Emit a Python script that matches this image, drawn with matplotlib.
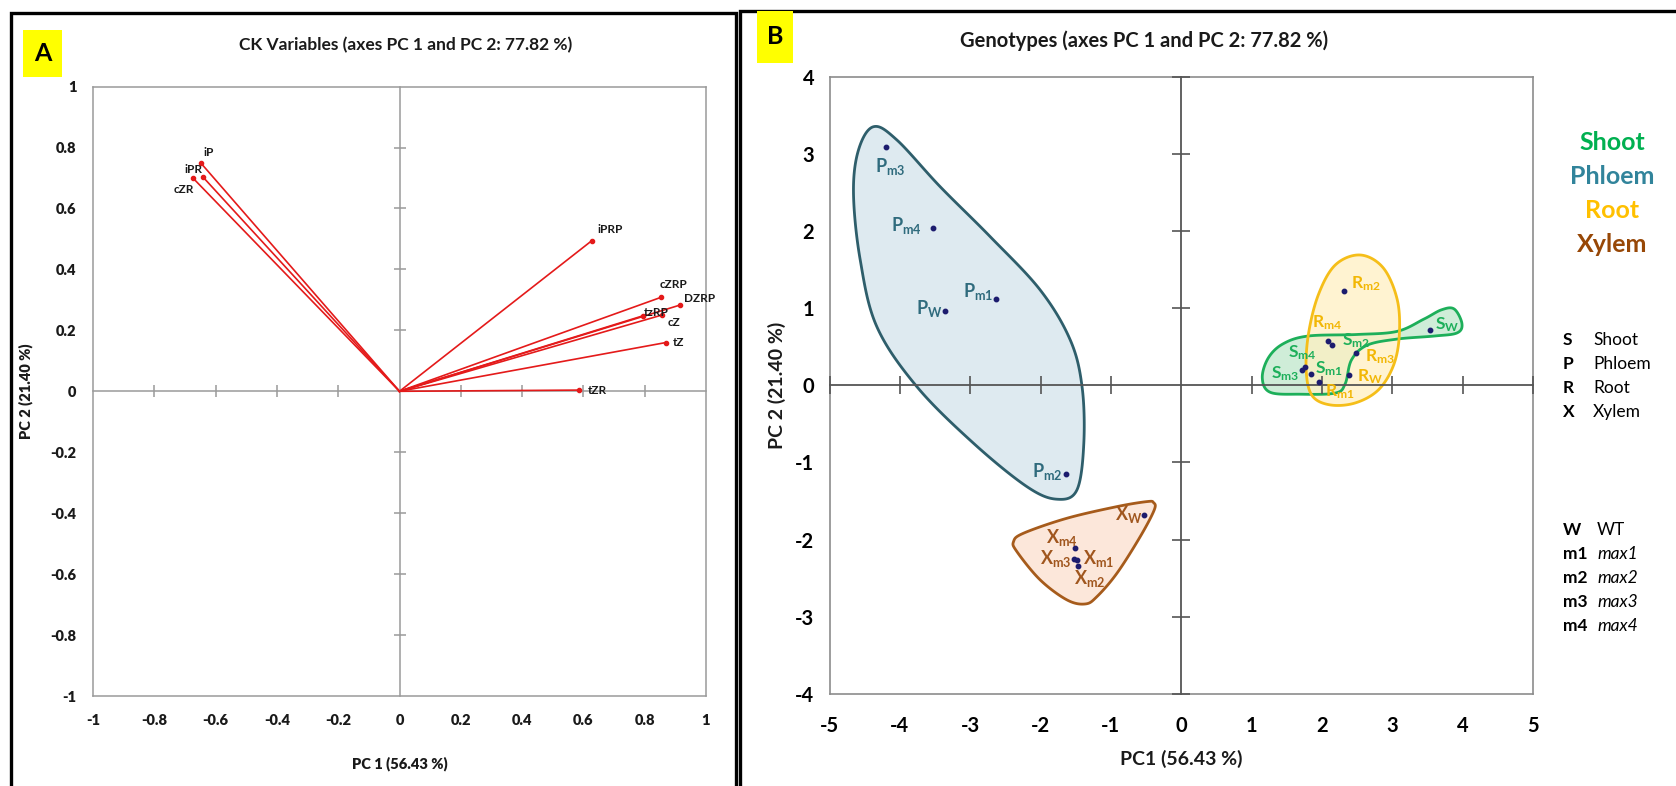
import numpy as np
import matplotlib
matplotlib.use("Agg")
import matplotlib.pyplot as plt
from matplotlib.patches import Rectangle, Polygon

plt.rcParams['font.family'] = ['Lato', 'DejaVu Sans']
plt.rcParams['mathtext.fontset'] = 'custom'
plt.rcParams['mathtext.rm'] = 'Lato'
plt.rcParams['mathtext.bf'] = 'Lato:bold'
plt.rcParams['mathtext.default'] = 'bf'

# ---- Panel A: cytokinin variable loadings ----
var_names = ['iP', 'iPR', 'cZR', 'iPRP', 'cZRP', 'DZRP', 'tzRP', 'cZ', 'tZ', 'tZR']
var_pc1 = [-0.648, -0.641, -0.674, 0.627, 0.852, 0.915, 0.795, 0.855, 0.869, 0.586]
var_pc2 = [0.749, 0.703, 0.700, 0.494, 0.308, 0.283, 0.248, 0.250, 0.160, 0.004]

# ---- Panel B: genotype scores per tissue (W, m1, m2, m3, m4) ----
genotypes = ['W', 'm1', 'm2', 'm3', 'm4']
phloem_pc1 = [-3.36, -2.64, -1.635, -4.194, -3.531]
phloem_pc2 = [0.965, 1.117, -1.153, 3.096, 2.037]
shoot_pc1 = [3.53, 1.844, 2.14, 1.722, 1.763]
shoot_pc2 = [0.718, 0.144, 0.524, 0.195, 0.243]
root_pc1 = [2.39, 1.952, 2.32, 2.48, 2.08]
root_pc2 = [0.131, 0.040, 1.228, 0.42, 0.58]
xylem_pc1 = [-0.526, -1.479, -1.469, -1.521, -1.51]
xylem_pc2 = [-1.681, -2.26, -2.339, -2.248, -2.105]

# hand-drawn group outlines (PC1, PC2)
phloem_outline_x = [-4.375, -4.588, -4.659, -4.564, -4.327, -3.758, -2.953, -2.194, -1.767,
                    -1.483, -1.385, -1.41, -1.578, -2.005, -2.716, -3.427, -4.042]
phloem_outline_y = [3.355, 3.053, 2.492, 1.631, 0.761, -0.017, -0.751, -1.314, -1.477,
                    -1.357, -0.751, -0.017, 0.589, 1.237, 1.929, 2.577, 3.183]
shoot_outline_x = [1.806, 2.5, 3.067, 3.45, 3.70, 3.88, 3.99, 3.92, 3.60, 3.067, 2.64,
                   2.42, 2.33, 2.19, 1.692, 1.265, 1.152, 1.237, 1.45]
shoot_outline_y = [0.64, 0.66, 0.70, 0.86, 0.98, 0.99, 0.80, 0.68, 0.64, 0.60, 0.52,
                   0.33, 0.02, -0.10, -0.115, -0.09, 0.096, 0.355, 0.54]
root_outline_x = [2.545, 2.872, 3.071, 3.099, 3.014, 2.801, 2.474, 2.119, 1.863, 1.777,
                  1.806, 1.948, 2.19]
root_outline_y = [1.691, 1.523, 1.108, 0.641, 0.252, -0.06, -0.228, -0.254, -0.137, 0.174,
                  0.654, 1.173, 1.562]
xylem_outline_x = [-0.394, -0.384, -0.583, -0.914, -1.199, -1.365, -1.625, -2.005, -2.336,
                   -2.384, -2.242, -1.625, -0.914, -0.488]
xylem_outline_y = [-1.521, -1.616, -1.962, -2.437, -2.741, -2.836, -2.783, -2.524, -2.157,
                   -2.027, -1.918, -1.724, -1.573, -1.508]


def smooth_closed(xs, ys, n=24):
    """Closed Catmull-Rom curve through the given outline points."""
    pts = np.column_stack([xs, ys]).astype(float)
    N = len(pts)
    t = np.linspace(0, 1, n, endpoint=False)[:, None]
    segs = []
    for i in range(N):
        p0, p1, p2, p3 = pts[(i - 1) % N], pts[i], pts[(i + 1) % N], pts[(i + 2) % N]
        segs.append(0.5 * (2 * p1 + (-p0 + p2) * t + (2 * p0 - 5 * p1 + 4 * p2 - p3) * t ** 2
                           + (-p0 + 3 * p1 - 3 * p2 + p3) * t ** 3))
    return np.vstack(segs)


W, H = 1676, 786
fig = plt.figure(figsize=(W / 100, H / 100), dpi=100)
fig.patch.set_facecolor('white')


def fx(px):
    return px / W


def fy(py):
    return 1 - py / H


# panel frames
for x0, x1, y0 in [(11, 736, 13), (740, 1690, 11)]:
    fig.patches.append(Rectangle((fx(x0), fy(H + 20)), fx(x1) - fx(x0), fy(y0) - fy(H + 20),
                                 transform=fig.transFigure, fill=False, edgecolor='black',
                                 linewidth=2.4, zorder=0))
# panel tags
for (x0, x1, y0, y1, tag) in [(23, 62, 30, 77, 'A'), (757, 793, 11, 63, 'B')]:
    fig.patches.append(Rectangle((fx(x0), fy(y1)), fx(x1) - fx(x0), fy(y0) - fy(y1),
                                 transform=fig.transFigure, facecolor='#FFFF00',
                                 edgecolor='none', zorder=1))
    fig.text(fx((x0 + x1) / 2), fy((y0 + y1) / 2), tag, ha='center', va='center',
             fontsize=18, fontweight='bold', color='black')

GRID_GRAY = '#9a9a9a'

# ================= Panel A =================
axA = fig.add_axes([fx(93), fy(696), fx(706) - fx(93), fy(86.6) - fy(696)])
axA.set_xlim(-1, 1)
axA.set_ylim(-1, 1)
ticksA = np.round(np.arange(-1, 1.01, 0.2), 1)
tick_txt_A = ['0' if abs(v) < 1e-9 else f'{v:g}' for v in ticksA]
axA.set_xticks(ticksA)
axA.set_yticks(ticksA)
axA.set_xticklabels(tick_txt_A, fontweight='heavy', fontsize=10.5, color='#1a1a1a')
axA.set_yticklabels(tick_txt_A, fontweight='heavy', fontsize=10.5, color='#1a1a1a')
axA.tick_params(length=0)
axA.tick_params(axis='x', pad=13)
axA.tick_params(axis='y', pad=12)
for s in axA.spines.values():
    s.set_color(GRID_GRAY)
    s.set_linewidth(1.1)

# zero axes with crossing ticks
axA0 = fig.add_axes(axA.get_position(), facecolor='none')
axA0.set_xlim(-1, 1)
axA0.set_ylim(-1, 1)
axA0.spines['left'].set_position(('data', 0))
axA0.spines['bottom'].set_position(('data', 0))
axA0.spines['top'].set_visible(False)
axA0.spines['right'].set_visible(False)
for s in ('left', 'bottom'):
    axA0.spines[s].set_color(GRID_GRAY)
    axA0.spines[s].set_linewidth(1.1)
axA0.set_xticks([v for v in ticksA if abs(v) > 1e-9 and abs(abs(v) - 1) > 1e-9])
axA0.set_yticks([v for v in ticksA if abs(v) > 1e-9 and abs(abs(v) - 1) > 1e-9])
axA0.tick_params(direction='inout', length=9, width=1.1, color=GRID_GRAY,
                 labelbottom=False, labelleft=False)

lab_offsets_A = {'iP': (8, 11), 'iPR': (-10, 8), 'cZR': (-9, -11), 'iPRP': (18, 11),
                 'cZRP': (13, 13), 'DZRP': (20, 7), 'tzRP': (13, 3), 'cZ': (12, -7),
                 'tZ': (13, 0), 'tZR': (18, 0)}
for name, x, y in zip(var_names, var_pc1, var_pc2):
    axA0.plot([0, x], [0, y], color='#E41A1A', linewidth=1.2, zorder=3)
    axA0.plot([x], [y], 'o', color='#E41A1A', markersize=3, zorder=4)
    axA0.annotate(name, (x, y), xytext=lab_offsets_A[name], textcoords='offset pixels',
                  ha='center', va='center', fontsize=8.5, fontweight='bold', color='#1a1a1a',
                  zorder=5)

fig.text(fx(406), fy(45), 'CK Variables (axes PC 1 and PC 2: 77.82 %)', ha='center',
         va='center', fontsize=12.5, fontweight='bold', color='#1a1a1a')
fig.text(fx(400), fy(764), 'PC 1 (56.43 %)', ha='center', va='center', fontsize=10.5,
         fontweight='heavy', color='#1a1a1a')
fig.text(fx(26), fy(391), 'PC 2 (21.40 %)', ha='center', va='center', fontsize=10.5,
         fontweight='heavy', rotation=90, color='#1a1a1a')

# ================= Panel B =================
axB = fig.add_axes([fx(829.5), fy(693.7), fx(1533) - fx(829.5), fy(77) - fy(693.7)])
axB.set_xlim(-5, 5)
axB.set_ylim(-4, 4)
axB.set_xticks(range(-5, 6))
axB.set_yticks(range(-4, 5))
axB.set_xticklabels([str(v) for v in range(-5, 6)], fontweight='bold', fontsize=14.5)
axB.set_yticklabels([str(v) for v in range(-4, 5)], fontweight='bold', fontsize=14.5)
axB.tick_params(length=0)
axB.tick_params(axis='x', pad=16)
axB.tick_params(axis='y', pad=11)
for s in axB.spines.values():
    s.set_color('#8c8c8c')
    s.set_linewidth(1.2)

groups = [
    ('P', phloem_pc1, phloem_pc2, phloem_outline_x, phloem_outline_y,
     '#2E5E6B', '#D3E4EC', '#2F6B7D', 13),
    ('X', xylem_pc1, xylem_pc2, xylem_outline_x, xylem_outline_y,
     '#A65B1B', '#FBE0CE', '#A0561E', 13),
    ('S', shoot_pc1, shoot_pc2, shoot_outline_x, shoot_outline_y,
     '#1DAF5A', '#BFE8CC', '#1DAF5A', 12.5),
    ('R', root_pc1, root_pc2, root_outline_x, root_outline_y,
     '#F5BE19', '#FFF0C2', '#F2B705', 12.5),
]

for g in groups:
    curve = smooth_closed(g[3], g[4])
    axB.add_patch(Polygon(curve, closed=True, facecolor=g[6], edgecolor='none',
                          alpha=0.75, zorder=2))
for g in groups:
    curve = smooth_closed(g[3], g[4])
    axB.add_patch(Polygon(curve, closed=True, facecolor='none', edgecolor=g[5],
                          linewidth=2.0, zorder=3))

# zero axes with crossing ticks
axB0 = fig.add_axes(axB.get_position(), facecolor='none')
axB0.set_xlim(-5, 5)
axB0.set_ylim(-4, 4)
axB0.spines['left'].set_position(('data', 0))
axB0.spines['bottom'].set_position(('data', 0))
axB0.spines['top'].set_visible(False)
axB0.spines['right'].set_visible(False)
for s in ('left', 'bottom'):
    axB0.spines[s].set_color('#555555')
    axB0.spines[s].set_linewidth(1.3)
axB0.set_xticks([v for v in range(-5, 6) if v != 0])
axB0.set_yticks([v for v in range(-4, 5) if v != 0])
axB0.tick_params(direction='inout', length=13, width=1.2, color='#555555',
                 labelbottom=False, labelleft=False)

lab_offsets_B = {
    'P': {'W': (-16, 2), 'm1': (-17, 8), 'm2': (-19, 3), 'm3': (4, -20), 'm4': (-26, 3)},
    'X': {'W': (-16, 0), 'm1': (21, 1), 'm2': (12, -13), 'm3': (-18, 0), 'm4': (-13, 10)},
    'S': {'W': (18, 5), 'm1': (18, 6), 'm2': (24, 4), 'm3': (-17, -3), 'm4': (-3, 14)},
    'R': {'W': (21, -1), 'm1': (21, -9), 'm2': (22, 7), 'm3': (24, -4), 'm4': (0, 18)},
}
for (letter, px, py, _, _, _, _, tcol, fsz) in groups:
    axB0.plot(px, py, 'o', color='#1c1c6e', markersize=3.2, zorder=6)
    for g, x, y in zip(genotypes, px, py):
        dx, dy = lab_offsets_B[letter][g]
        axB0.annotate(r'$\mathregular{%s_{%s}}$' % (letter, g), (x, y), xytext=(dx, dy),
                      textcoords='offset pixels', ha='center', va='center',
                      fontsize=fsz, fontweight='bold', color=tcol, zorder=7)

fig.text(fx(1144), fy(41), 'Genotypes (axes PC 1 and PC 2: 77.82 %)', ha='center',
         va='center', fontsize=14.5, fontweight='bold', color='#1a1a1a')
fig.text(fx(1181), fy(759), 'PC1 (56.43 %)', ha='center', va='center', fontsize=14,
         fontweight='bold', color='#1a1a1a')
fig.text(fx(777), fy(385), 'PC 2 (21.40 %)', ha='center', va='center', fontsize=14,
         fontweight='bold', rotation=90, color='#1a1a1a')

# tissue colour key
tissues = ['Shoot', 'Phloem', 'Root', 'Xylem']
tissue_colors = ['#00B050', '#31849B', '#FFC000', '#974706']
for i, (t, c) in enumerate(zip(tissues, tissue_colors)):
    fig.text(fx(1612), fy(143 + 34 * i), t, ha='center', va='center', fontsize=18,
             fontweight='bold', color=c)

# abbreviation keys
abbr_letters = ['S', 'P', 'R', 'X']
for i, (a, t) in enumerate(zip(abbr_letters, tissues)):
    yy = fy(340 + 24 * i)
    fig.text(fx(1563), yy, a, ha='left', va='center', fontsize=12.5, fontweight='bold')
    fig.text(fx(1593), yy, t, ha='left', va='center', fontsize=12.5)

genotype_keys = ['W', 'm1', 'm2', 'm3', 'm4']
genotype_names = ['WT', 'max1', 'max2', 'max3', 'max4']
for i, (a, t) in enumerate(zip(genotype_keys, genotype_names)):
    yy = fy(530 + 24 * i)
    fig.text(fx(1563), yy, a, ha='left', va='center', fontsize=12.5, fontweight='bold')
    fig.text(fx(1597), yy, t, ha='left', va='center', fontsize=12.5,
             fontstyle='normal' if t == 'WT' else 'italic')

fig.savefig('out.png', dpi=100)
